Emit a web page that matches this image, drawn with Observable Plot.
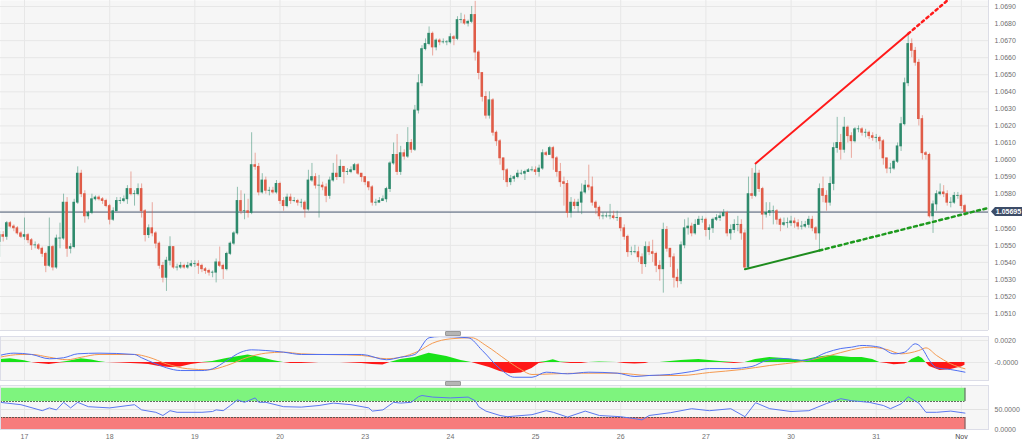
<!DOCTYPE html>
<html><head><meta charset="utf-8">
<script src="https://cdn.jsdelivr.net/npm/d3@7"></script>
<script src="https://cdn.jsdelivr.net/npm/@observablehq/plot@0.6"></script>
<style>
html,body{margin:0;padding:0;background:#fff;}
#chart{position:relative;width:1024px;height:444px;overflow:hidden;background:#fff;font-family:"Liberation Sans",Arial,sans-serif;}
.panel{position:absolute;left:0;}
.handle{position:absolute;left:445px;width:14px;height:3px;background:#b5b5b5;border:1px solid #999;border-radius:1px;}
</style></head>
<body><div id="chart"></div>
<script>
// ---- data ----
const dayIdx = [7,31,55,79,103,127,151,175,199,223,247,271];
const dayLabels = ["17","18","19","20","23","24","25","26","27","30","31","Nov"];
const priceTicks = [1.051,1.052,1.053,1.054,1.055,1.056,1.057,1.058,1.059,1.060,1.061,1.062,1.063,1.064,1.065,1.066,1.067,1.068,1.069];
const firstOpen = 1.0552;
const lastPrice = 1.05695;
const closes = [
1.0556,1.0555,1.0563,1.0561,1.0560,1.0557,1.0555,1.0556,1.0553,1.0550,
1.0550,1.0548,1.0545,1.0538,1.0549,1.0537,1.0554,1.0554,1.0575,1.0548,
1.0549,1.0575,1.0592,1.0580,1.0567,1.0569,1.0577,1.0578,1.0577,1.0576,
1.0573,1.0565,1.0570,1.0576,1.0576,1.0577,1.0583,1.0580,1.0580,1.0583,
1.0570,1.0556,1.0560,1.0557,1.0551,1.0538,1.0531,1.0541,1.0549,1.0537,
1.0537,1.0538,1.0537,1.0538,1.0539,1.0539,1.0538,1.0536,1.0535,1.0534,
1.0534,1.0540,1.0538,1.0536,1.0545,1.0551,1.0557,1.0576,1.0570,1.0570,
1.0569,1.0597,1.0596,1.0581,1.0588,1.0582,1.0582,1.0581,1.0586,1.0576,
1.0573,1.0578,1.0576,1.0576,1.0575,1.0575,1.0571,1.0588,1.0590,1.0585,
1.0585,1.0584,1.0579,1.0588,1.0592,1.0590,1.0596,1.0593,1.0593,1.0594,
1.0597,1.0592,1.0590,1.0587,1.0584,1.0575,1.0575,1.0576,1.0577,1.0583,
1.0598,1.0603,1.0593,1.0604,1.0602,1.0610,1.0606,1.0629,1.0645,1.0665,
1.0668,1.0674,1.0666,1.0670,1.0669,1.0669,1.0669,1.0672,1.0671,1.0682,
1.0682,1.0680,1.0681,1.0685,1.0663,1.0651,1.0637,1.0626,1.0635,1.0616,
1.0611,1.0601,1.0594,1.0587,1.0589,1.0590,1.0592,1.0592,1.0593,1.0594,
1.0594,1.0593,1.0595,1.0604,1.0603,1.0607,1.0601,1.0593,1.0587,1.0586,
1.0569,1.0575,1.0573,1.0575,1.0581,1.0585,1.0584,1.0575,1.0572,1.0567,
1.0567,1.0567,1.0567,1.0566,1.0566,1.0560,1.0555,1.0546,1.0546,1.0546,
1.0543,1.0539,1.0549,1.0546,1.0545,1.0538,1.0536,1.0559,1.0548,1.0543,
1.0531,1.0529,1.0550,1.0560,1.0561,1.0557,1.0562,1.0565,1.0565,1.0559,
1.0560,1.0565,1.0566,1.0567,1.0569,1.0557,1.0559,1.0562,1.0562,1.0557,
1.0537,1.0580,1.0579,1.0592,1.0583,1.0568,1.0569,1.0570,1.0570,1.0565,
1.0562,1.0563,1.0563,1.0564,1.0563,1.0561,1.0561,1.0562,1.0565,1.0560,
1.0557,1.0583,1.0579,1.0575,1.0586,1.0607,1.0610,1.0606,1.0619,1.0614,
1.0611,1.0618,1.0618,1.0616,1.0616,1.0614,1.0613,1.0613,1.0611,1.0601,
1.0595,1.0595,1.0599,1.0608,1.0621,1.0645,1.0668,1.0664,1.0657,1.0624,
1.0604,1.0603,1.0567,1.0574,1.0580,1.0581,1.0580,1.0575,1.0575,1.0579,
1.0579,1.0573,1.05695];
const highs = [
1.0558,1.0558,1.0564,1.0564,1.0562,1.0561,1.0558,1.0566,1.0557,1.0554,
1.0552,1.0551,1.0549,1.0546,1.0566,1.0550,1.0556,1.0563,1.0580,1.0578,
1.0551,1.0577,1.0596,1.0594,1.0582,1.0570,1.0580,1.0579,1.0579,1.0578,
1.0577,1.0574,1.0572,1.0578,1.0578,1.0579,1.0585,1.0593,1.0582,1.0586,
1.0586,1.0571,1.0562,1.0575,1.0558,1.0552,1.0540,1.0543,1.0555,1.0549,
1.0539,1.0540,1.0539,1.0540,1.0541,1.0541,1.0541,1.0539,1.0537,1.0536,
1.0535,1.0542,1.0549,1.0539,1.0546,1.0552,1.0558,1.0584,1.0582,1.0580,
1.0577,1.0616,1.0604,1.0598,1.0592,1.0590,1.0584,1.0584,1.0588,1.0587,
1.0578,1.0580,1.0580,1.0578,1.0577,1.0577,1.0576,1.0594,1.0598,1.0592,
1.0591,1.0587,1.0586,1.0590,1.0598,1.0603,1.0600,1.0596,1.0595,1.0596,
1.0598,1.0598,1.0592,1.0590,1.0587,1.0585,1.0577,1.0578,1.0579,1.0584,
1.0599,1.0610,1.0615,1.0608,1.0606,1.0619,1.0612,1.0632,1.0650,1.0667,
1.0671,1.0678,1.0675,1.0671,1.0671,1.0671,1.0670,1.0674,1.0673,1.0684,
1.0686,1.0685,1.0682,1.0690,1.0693,1.0664,1.0651,1.0640,1.0640,1.0636,
1.0617,1.0612,1.0601,1.0595,1.0591,1.0591,1.0594,1.0594,1.0594,1.0595,
1.0596,1.0596,1.0597,1.0606,1.0605,1.0608,1.0608,1.0602,1.0598,1.0590,
1.0588,1.0578,1.0577,1.0577,1.0586,1.0588,1.0597,1.0590,1.0576,1.0573,
1.0569,1.0569,1.0574,1.0570,1.0570,1.0566,1.0562,1.0556,1.0549,1.0550,
1.0549,1.0545,1.0552,1.0552,1.0553,1.0546,1.0541,1.0563,1.0561,1.0548,
1.0545,1.0536,1.0552,1.0565,1.0566,1.0563,1.0565,1.0567,1.0567,1.0566,
1.0562,1.0566,1.0568,1.0569,1.0571,1.0570,1.0562,1.0565,1.0567,1.0565,
1.0559,1.0590,1.0595,1.0598,1.0594,1.0584,1.0575,1.0575,1.0573,1.0571,
1.0566,1.0566,1.0566,1.0567,1.0566,1.0565,1.0564,1.0564,1.0567,1.0567,
1.0561,1.0586,1.0590,1.0582,1.0590,1.0610,1.0625,1.0615,1.0625,1.0620,
1.0616,1.0619,1.0620,1.0619,1.0618,1.0617,1.0616,1.0615,1.0614,1.0612,
1.0601,1.0598,1.0600,1.0610,1.0625,1.0648,1.0674,1.0671,1.0666,1.0659,
1.0626,1.0605,1.0604,1.0576,1.0582,1.0586,1.0585,1.0582,1.0578,1.0581,
1.0581,1.0580,1.0574];
const lows = [
1.0543,1.0552,1.0553,1.0560,1.0558,1.0556,1.0554,1.0553,1.0551,1.0547,
1.0548,1.0547,1.0543,1.0534,1.0537,1.0535,1.0536,1.0548,1.0553,1.0543,
1.0545,1.0548,1.0574,1.0578,1.0563,1.0565,1.0568,1.0576,1.0576,1.0574,
1.0572,1.0562,1.0564,1.0570,1.0574,1.0575,1.0574,1.0579,1.0573,1.0579,
1.0566,1.0552,1.0554,1.0555,1.0548,1.0536,1.0528,1.0523,1.0538,1.0536,
1.0535,1.0536,1.0536,1.0536,1.0537,1.0537,1.0533,1.0534,1.0533,1.0532,
1.0531,1.0528,1.0537,1.0530,1.0535,1.0544,1.0550,1.0556,1.0568,1.0565,
1.0566,1.0568,1.0594,1.0579,1.0580,1.0580,1.0579,1.0580,1.0580,1.0574,
1.0570,1.0572,1.0574,1.0575,1.0573,1.0572,1.0566,1.0570,1.0587,1.0583,
1.0566,1.0582,1.0575,1.0577,1.0587,1.0588,1.0590,1.0586,1.0591,1.0592,
1.0594,1.0591,1.0587,1.0585,1.0582,1.0573,1.0573,1.0575,1.0576,1.0575,
1.0581,1.0597,1.0591,1.0591,1.0600,1.0601,1.0604,1.0605,1.0627,1.0643,
1.0664,1.0667,1.0661,1.0664,1.0667,1.0668,1.0667,1.0668,1.0667,1.0670,
1.0680,1.0679,1.0678,1.0680,1.0658,1.0647,1.0634,1.0624,1.0624,1.0614,
1.0608,1.0597,1.0588,1.0584,1.0585,1.0587,1.0589,1.0591,1.0588,1.0593,
1.0593,1.0591,1.0590,1.0594,1.0602,1.0603,1.0594,1.0590,1.0584,1.0573,
1.0566,1.0566,1.0571,1.0569,1.0568,1.0580,1.0582,1.0573,1.0568,1.0565,
1.0565,1.0566,1.0565,1.0565,1.0564,1.0558,1.0553,1.0543,1.0544,1.0545,
1.0540,1.0533,1.0537,1.0544,1.0540,1.0534,1.0529,1.0522,1.0546,1.0537,
1.0525,1.0525,1.0527,1.0548,1.0556,1.0555,1.0556,1.0562,1.0563,1.0555,
1.0553,1.0557,1.0564,1.0564,1.0567,1.0555,1.0553,1.0557,1.0558,1.0553,
1.0536,1.0536,1.0577,1.0578,1.0581,1.0559,1.0566,1.0567,1.0562,1.0562,
1.0558,1.0561,1.0560,1.0561,1.0560,1.0559,1.0559,1.0560,1.0560,1.0558,
1.0553,1.0547,1.0575,1.0570,1.0573,1.0582,1.0604,1.0600,1.0604,1.0610,
1.0601,1.0610,1.0616,1.0614,1.0613,1.0612,1.0611,1.0610,1.0606,1.0597,
1.0592,1.0592,1.0594,1.0598,1.0605,1.0620,1.0643,1.0660,1.0655,1.0620,
1.0600,1.0600,1.0566,1.0557,1.0570,1.0579,1.0578,1.0573,1.0572,1.0574,
1.0577,1.0571,1.0567];
// trendlines (candle index, price)
const resistanceIdx = [213, 256];
const resistancePx = [1.0598, 1.0674];
const supportIdx = [210, 231];
const supportPx = [1.0536, 1.0547];
// MACD panel (sampled along the candles)
const macdIdx = [0,4,9,14,18,22,28,38,40,44,47,51,57,60,64,68,71,75,80,85,102,109,113,117,121,124,132,136,141,145,150,154,160,166,174,179,183,189,195,200,206,212,216,221,227,233,237,240,243,248,252,255,258,260,262,264,268,272];
const macdVal = [0.00064,0.00085,0.00073,0.00034,0.00043,0.00079,0.00085,0.00073,0.00043,-0.00012,-0.00048,-0.00073,-0.00073,-0.00057,0.00018,0.00094,0.00115,0.00109,0.00094,0.00073,0.00073,0.00025,0.00048,0.00073,0.00225,0.00236,0.00225,0.00109,-0.00057,-0.00134,-0.00134,-0.00088,-0.00103,-0.00088,-0.00097,-0.00127,-0.00118,-0.00109,-0.00082,-0.00055,-0.00055,-0.00036,0.00018,0.00036,0.00018,0.00091,0.00127,0.00139,0.00155,0.00139,0.00079,0.00094,0.0017,0.00125,0.00018,-0.00048,-0.00064,-0.00088];
const signalIdx = [0,6,9,14,19,23,28,38,42,47,53,59,64,70,75,80,85,102,109,113,118,122,127,133,137,143,147,150,156,164,174,183,192,200,209,217,226,234,240,245,250,254,259,261,264,268,272];
const signalVal = [0.00048,0.00073,0.00073,0.00048,0.00025,0.00048,0.00073,0.00073,0.00048,-0.00012,-0.00057,-0.00066,-0.00027,0.00048,0.00085,0.00094,0.00079,0.00064,0.00034,0.00048,0.00103,0.00176,0.00215,0.00225,0.00155,0.00018,-0.00066,-0.00109,-0.00103,-0.00097,-0.00097,-0.00118,-0.00118,-0.00091,-0.00064,-0.00027,0.00009,0.00064,0.00115,0.00139,0.00118,0.00079,0.00109,0.00133,0.00064,-0.00012,-0.00057];
const histIdx = [0,3,7,9,11,14,17,19,23,26,28,30,34,40,42,45,48,51,54,57,60,64,70,73,77,80,82,85,88,90,96,102,105,108,110,113,117,121,126,130,133,135,138,141,144,147,150,152,154,156,158,161,164,166,169,174,176,179,182,183,186,192,197,203,207,210,213,217,221,226,230,234,237,240,243,246,248,250,252,255,256,257,259,260,261,262,265,268,271,272];
const histVal = [0.00027,0.00034,0.00015,0,-0.00009,-0.00018,-0.00005,0.00009,0.00034,0.00023,0.00009,0,-0.00005,-0.00014,-0.00018,-0.00036,-0.00045,-0.00041,-0.00018,-0.00005,0.00009,0.00036,0.00068,0.0005,0.00018,0,-0.00009,-0.00009,-0.00005,0,0,-0.00009,-0.00018,-0.00023,0,0.00027,0.00045,0.00085,0.00055,0.00018,0,-0.00018,-0.00045,-0.00082,-0.00103,-0.00095,-0.00055,-0.00009,0.00009,0.00025,0.00005,-0.00009,-0.00009,0,0.00005,0,-0.00009,-0.00014,-0.00009,0,0,0.00018,0.00027,0.00009,-0.00009,0,0.00027,0.00045,0.00036,0.00018,0.00045,0.00064,0.00055,0.00045,0.00045,0.00027,0,-0.00009,-0.00021,-0.00014,0,0.00027,0.00055,0.00036,0,-0.00036,-0.00073,-0.00064,-0.00041,-0.00025];
const macdTicks = [0, 0.002];
// RSI panel
const rsiIdx = [0,6,12,14,16,18,20,22,25,31,38,40,44,46,48,50,57,60,61,63,65,67,69,72,73,75,80,85,90,94,99,104,105,108,111,113,116,118,119,122,127,132,134,135,137,141,143,150,154,156,160,165,169,175,179,181,183,189,195,200,206,210,213,217,223,228,233,237,240,245,249,251,254,256,259,261,264,268,272];
const rsiVal = [68,62,47,54,49,68,54,68,57,54,62,49,43,35,47,43,43,45,49,47,60,74,68,79,68,68,57,56,60,66,62,54,46,49,68,66,68,82,85,81,79,81,72,57,46,35,32,37,47,43,31,46,35,32,27,24,35,42,52,47,52,32,67,52,45,47,65,77,72,68,60,52,64,82,66,43,43,46,41];
const rsiTicks = [0, 50];
const rsiUpper = [70, 103];
const rsiLower = [0, 30];

// ---- layout constants ----
const W = 1024, MR = 36;
const xDomain = [0.2375, 278.63];
const font = '"Liberation Sans", Arial, sans-serif';
const axisColor = "#6f6f6f";
const up = "#2e8a6c", down = "#e05c48";

const candles = closes.map((c, i) => {
  const o = i === 0 ? firstOpen : closes[i - 1];
  return {i, open: o, close: c, high: Math.max(highs[i], o, c), low: Math.min(lows[i], o, c), up: c >= o};
});
const bodyLo = d => Math.min(d.open, d.close) - 0.000025;
const bodyHi = d => Math.max(d.open, d.close) + 0.000025;

function extendLine(idx, px, iEnd) {
  const s = (px[1] - px[0]) / (idx[1] - idx[0]);
  return [{i: idx[1], p: px[1]}, {i: iEnd, p: px[1] + s * (iEnd - idx[1])}];
}
const res = resistanceIdx.map((i, k) => ({i, p: resistancePx[k]}));
const sup = supportIdx.map((i, k) => ({i, p: supportPx[k]}));
const resExt = extendLine(resistanceIdx, resistancePx, xDomain[1]);
const supExt = extendLine(supportIdx, supportPx, xDomain[1]);
// the tick label hidden behind the last-price tag is not shown
const priceLabelTicks = priceTicks.filter(t => Math.abs(t - lastPrice) > 0.0004);

const chart = document.getElementById("chart");
function place(el, top) { el.classList.add("panel"); el.style.top = top + "px"; chart.appendChild(el); }

// ---- price panel ----
const price = Plot.plot({
  width: W, height: 331, marginTop: 0, marginBottom: 1, marginLeft: 0, marginRight: MR,
  style: {background: "transparent", fontFamily: font, fontSize: "7px", overflow: "visible"},
  x: {domain: xDomain, axis: null},
  y: {domain: [1.05001, 1.06935], axis: null},
  marks: [
    Plot.frame({fill: "#f6f6f6", stroke: null}),
    Plot.ruleY(priceTicks, {stroke: "#e7e7e7"}),
    Plot.ruleX(dayIdx, {stroke: "#e7e7e7"}),
    Plot.axisY(priceLabelTicks, {anchor: "right", label: null, tickSize: 0, tickPadding: 6, tickFormat: d => d.toFixed(4), fill: axisColor}),
    Plot.ruleY([lastPrice], {stroke: "#4b5a73", strokeWidth: 1}),
    Plot.ruleX(candles, {x: "i", y1: "low", y2: "high", stroke: d => d.up ? up : down, strokeOpacity: 0.5, strokeWidth: 1}),
    Plot.rect(candles, {x1: d => d.i - 0.36, x2: d => d.i + 0.36, y1: bodyLo, y2: bodyHi, fill: d => d.up ? up : down}),
    Plot.line(res, {x: "i", y: "p", stroke: "#ff1a1a", strokeWidth: 2}),
    Plot.line(resExt, {x: "i", y: "p", stroke: "#ff1a1a", strokeWidth: 2.5, strokeDasharray: "2.5,3.5", clip: true}),
    Plot.line(sup, {x: "i", y: "p", stroke: "#1e8c1e", strokeWidth: 2}),
    Plot.line(supExt, {x: "i", y: "p", stroke: "#1e9a1e", strokeWidth: 2.5, strokeDasharray: "3,3.5", clip: true}),
    Plot.ruleX([xDomain[1]], {stroke: "#dcdde6"}),
    Plot.ruleY([1.05001], {stroke: "#dcdde6"})
  ]
});
place(price, 0);
{
  const y = price.scale("y").apply(lastPrice);
  const g = d3.select(price).append("g");
  g.append("path").attr("d", `M991,${y} L995,${y-4.5} L1022,${y-4.5} L1022,${y+4.5} L995,${y+4.5} Z`).attr("fill", "#3d4d68");
  g.append("text").attr("x", 1008.5).attr("y", y).attr("dy", "0.35em").attr("text-anchor", "middle")
    .attr("fill", "#fff").attr("font-size", 7).attr("font-weight", "bold").attr("font-family", font).text(lastPrice.toFixed(5));
}

// ---- MACD panel ----
const macd = macdIdx.map((i, k) => ({i, v: macdVal[k]}));
const signal = signalIdx.map((i, k) => ({i, v: signalVal[k]}));
const hist = histIdx.map((i, k) => ({i, v: histVal[k]}));
const macdPlot = Plot.plot({
  width: W, height: 44, marginTop: 0, marginBottom: 0, marginLeft: 0, marginRight: MR,
  style: {background: "transparent", fontFamily: font, fontSize: "7px", overflow: "visible"},
  x: {domain: xDomain, axis: null},
  y: {domain: [-0.001636, 0.002364], axis: null, label: null},
  marks: [
    Plot.frame({fill: "#f6f6f6", stroke: null}),
    Plot.ruleX(dayIdx, {stroke: "#e7e7e7"}),
    Plot.ruleY(macdTicks, {stroke: "#e7e7e7"}),
    Plot.areaY(hist, {x: "i", y: d => Math.max(0, d.v), fill: "#00e000", fillOpacity: 0.9}),
    Plot.areaY(hist, {x: "i", y: d => Math.min(0, d.v), fill: "#ff0000", fillOpacity: 0.9}),
    Plot.line(signal, {x: "i", y: "v", stroke: "#f59a50", strokeWidth: 1, curve: "monotone-x"}),
    Plot.line(macd, {x: "i", y: "v", stroke: "#4f6ff2", strokeWidth: 1, curve: "monotone-x"}),
    Plot.axisY(macdTicks, {anchor: "right", label: null, tickSize: 0, tickPadding: 6, tickFormat: d => d === 0 ? "-0.0000" : d.toFixed(4), fill: axisColor}),
    Plot.frame({stroke: "#dcdde8"})
  ]
});
place(macdPlot, 336);

// ---- RSI panel ----
const rsi = rsiIdx.map((i, k) => ({i, v: rsiVal[k]}));
const lastIdx = closes.length - 1;
const rsiPlot = Plot.plot({
  width: W, height: 59, marginTop: 0, marginBottom: 15, marginLeft: 0, marginRight: MR,
  style: {background: "transparent", fontFamily: font, fontSize: "7px", overflow: "visible"},
  x: {domain: xDomain, axis: null, label: null},
  y: {domain: [0, 110], axis: null, label: null},
  marks: [
    Plot.frame({fill: "#f6f6f6", stroke: null}),
    Plot.ruleX(dayIdx, {stroke: "#e7e7e7"}),
    Plot.ruleY([50], {stroke: "#e2e2e2"}),
    Plot.rect([rsiUpper], {x1: xDomain[0], x2: lastIdx, y1: d => d[0], y2: d => d[1], fill: "#7ef47e"}),
    Plot.rect([rsiLower], {x1: xDomain[0], x2: lastIdx, y1: d => d[0], y2: d => d[1], fill: "#f77c7c"}),
    Plot.ruleY([rsiUpper[0], rsiLower[1]], {x1: xDomain[0], x2: lastIdx, stroke: "#3c4a3c", strokeWidth: 0.8, strokeDasharray: "2,1"}),
    Plot.ruleX([lastIdx], {y1: rsiUpper[0], y2: rsiUpper[1], stroke: "#2f5a2f", strokeWidth: 1}),
    Plot.ruleX([lastIdx], {y1: rsiLower[0], y2: rsiLower[1], stroke: "#6a2a2a", strokeWidth: 1}),
    Plot.line(rsi, {x: "i", y: "v", stroke: "#5b78f0", strokeWidth: 1}),
    Plot.axisY(rsiTicks, {anchor: "right", label: null, tickSize: 0, tickPadding: 6, tickFormat: d => d.toFixed(4), fill: axisColor}),
    Plot.axisX(dayIdx, {anchor: "bottom", label: null, tickSize: 0, tickPadding: 5, tickFormat: d => dayLabels[dayIdx.indexOf(d)],
      fill: d => d === 271 ? "#444" : axisColor, fontWeight: d => d === 271 ? "bold" : "normal"}),
    Plot.frame({stroke: "#dcdde8"})
  ]
});
place(rsiPlot, 385);

// panel handles
for (const t of [330.5, 380.5]) { const h = document.createElement("div"); h.className = "handle"; h.style.top = t + "px"; chart.appendChild(h); }
</script>
</body></html>
